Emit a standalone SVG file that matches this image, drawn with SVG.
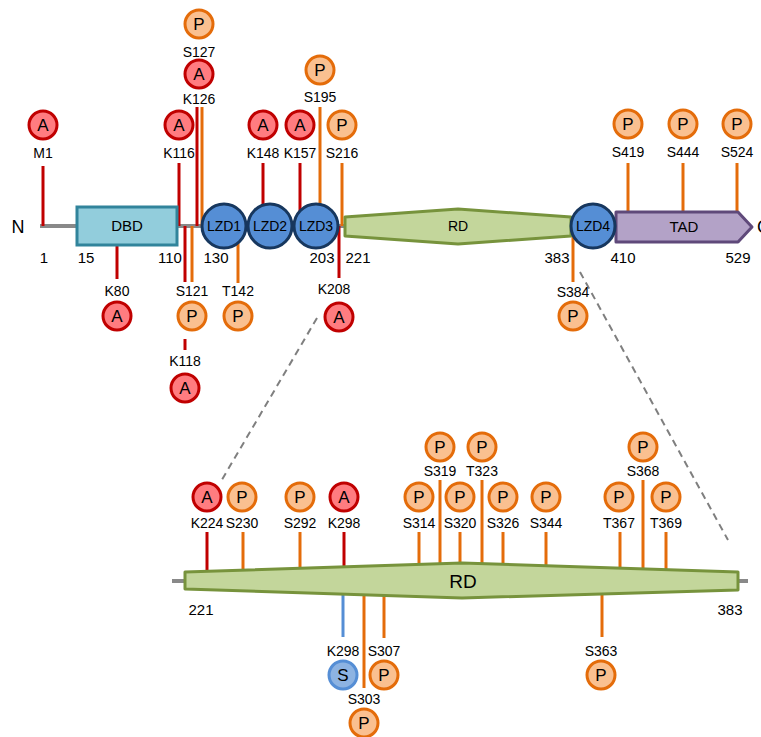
<svg xmlns="http://www.w3.org/2000/svg" width="761" height="737" viewBox="0 0 761 737">
<style>
text{font-family:"Liberation Sans",Arial,sans-serif;fill:#000;text-anchor:middle}
.lbl{font-size:14px}
.num{font-size:15px}
.let{font-size:17px}
.dom{font-size:15px}
.bb{stroke:#898989;stroke-width:4;fill:none}
.r{stroke:#c00000;stroke-width:3;fill:none}
.o{stroke:#e46c0a;stroke-width:3;fill:none}
.b{stroke:#558ed5;stroke-width:3;fill:none}
.dash{stroke:#7f7f7f;stroke-width:2;stroke-dasharray:7 5;fill:none}
.ca{fill:#ff7c80;stroke:#c00000;stroke-width:3}
.cp{fill:#fac090;stroke:#e46c0a;stroke-width:3}
.cs{fill:#8db3e2;stroke:#558ed5;stroke-width:3}
.lzd{fill:#558ed5;stroke:#17375e;stroke-width:3}
.rd{fill:#c3d69b;stroke:#77933c;stroke-width:3;stroke-linejoin:round}
</style>

<g id="connectors">
  <line class="bb" x1="40" y1="226" x2="616" y2="226"/>
  <line class="bb" x1="172" y1="581" x2="748" y2="581"/>
  <line class="dash" x1="317" y1="318" x2="220" y2="483"/>
  <line class="dash" x1="580" y1="272" x2="728" y2="540"/>
  <!-- top sites main -->
  <line class="r" x1="43" y1="166" x2="43" y2="226"/>
  <line class="r" x1="179" y1="163" x2="179" y2="226"/>
  <line class="r" x1="197" y1="107" x2="197" y2="226"/>
  <line class="o" x1="202" y1="107" x2="202" y2="226"/>
  <line class="r" x1="263" y1="163" x2="263" y2="226"/>
  <line class="r" x1="300" y1="163" x2="300" y2="226"/>
  <line class="o" x1="320" y1="107" x2="320" y2="226"/>
  <line class="o" x1="342" y1="163" x2="342" y2="226"/>
  <line class="o" x1="628" y1="163" x2="628" y2="226"/>
  <line class="o" x1="683" y1="163" x2="683" y2="226"/>
  <line class="o" x1="737" y1="163" x2="737" y2="226"/>
  <!-- bottom sites main -->
  <line class="r" x1="117" y1="240" x2="117" y2="279"/>
  <line class="r" x1="185" y1="226" x2="185" y2="282"/>
  <line class="o" x1="192" y1="226" x2="192" y2="282"/>
  <line class="r" x1="185" y1="339" x2="185" y2="350"/>
  <line class="o" x1="238" y1="230" x2="238" y2="283"/>
  <line class="r" x1="339" y1="226" x2="339" y2="278"/>
  <line class="o" x1="573" y1="226" x2="573" y2="282"/>
  <!-- zoomed RD top sites -->
  <line class="r" x1="207" y1="532" x2="207" y2="578"/>
  <line class="o" x1="243" y1="532" x2="243" y2="578"/>
  <line class="o" x1="300" y1="532" x2="300" y2="578"/>
  <line class="r" x1="344" y1="532" x2="344" y2="578"/>
  <line class="o" x1="419" y1="532" x2="419" y2="578"/>
  <line class="o" x1="440" y1="480" x2="440" y2="578"/>
  <line class="o" x1="460" y1="532" x2="460" y2="578"/>
  <line class="o" x1="482" y1="480" x2="482" y2="578"/>
  <line class="o" x1="503" y1="532" x2="503" y2="578"/>
  <line class="o" x1="546" y1="532" x2="546" y2="578"/>
  <line class="o" x1="620" y1="532" x2="620" y2="578"/>
  <line class="o" x1="643" y1="480" x2="643" y2="578"/>
  <line class="o" x1="666" y1="532" x2="666" y2="578"/>
  <!-- zoomed RD bottom sites -->
  <line class="b" x1="343" y1="585" x2="343" y2="637"/>
  <line class="o" x1="364" y1="585" x2="364" y2="688"/>
  <line class="o" x1="384" y1="585" x2="384" y2="638"/>
  <line class="o" x1="602" y1="585" x2="602" y2="637"/>
</g>

<text x="18" y="233" style="font-size:18px">N</text>
<text x="757" y="233" style="font-size:18px;text-anchor:start">C</text>

<g id="DBD">
  <rect x="77" y="207" width="100" height="38" fill="#92cddc" stroke="#31849b" stroke-width="3"/>
  <text class="dom" x="127" y="231">DBD</text>
</g>
<g id="RD">
  <polygon class="rd" points="345,217 458,209 571,217 571,236 458,244 345,236"/>
  <text class="lbl" x="458" y="231">RD</text>
</g>
<g id="TAD">
  <polygon points="616,212 738,212 752,227 738,242 616,242" fill="#b3a2c7" stroke="#5f497a" stroke-width="3" stroke-linejoin="round"/>
  <text class="dom" x="684" y="232">TAD</text>
</g>
<g id="LZD1"><circle class="lzd" cx="224" cy="226" r="22"/><text class="lbl" x="224" y="231">LZD1</text></g>
<g id="LZD2"><circle class="lzd" cx="270" cy="226" r="22"/><text class="lbl" x="270" y="231">LZD2</text></g>
<g id="LZD3"><circle class="lzd" cx="316" cy="226" r="22"/><text class="lbl" x="316" y="231">LZD3</text></g>
<g id="LZD4"><circle class="lzd" cx="593" cy="226" r="22"/><text class="lbl" x="593" y="231">LZD4</text></g>

<g id="positions">
  <text class="num" x="44" y="263">1</text>
  <text class="num" x="86" y="263">15</text>
  <text class="num" x="170" y="263">110</text>
  <text class="num" x="216" y="263">130</text>
  <text class="num" x="322" y="263">203</text>
  <text class="num" x="358" y="263">221</text>
  <text class="num" x="557" y="263">383</text>
  <text class="num" x="623" y="263">410</text>
  <text class="num" x="738" y="263">529</text>
  <text class="num" x="201" y="615">221</text>
  <text class="num" x="730" y="615">383</text>
</g>

<g id="RD-detail">
  <polygon class="rd" points="185,572 462,563 738,572 738,590 462,598 185,589"/>
  <text x="463" y="588" style="font-size:19px">RD</text>
</g>

<!-- main sites top -->
<g id="M1"><circle class="ca" cx="43" cy="125" r="14"/><text class="let" x="43" y="131">A</text><text class="lbl" x="43" y="158">M1</text></g>
<g id="K116"><circle class="ca" cx="179" cy="125" r="14"/><text class="let" x="179" y="131">A</text><text class="lbl" x="179" y="158">K116</text></g>
<g id="K126"><circle class="ca" cx="199" cy="74" r="14"/><text class="let" x="199" y="80">A</text><text class="lbl" x="199" y="104">K126</text></g>
<g id="S127"><circle class="cp" cx="199" cy="24" r="14"/><text class="let" x="199" y="30">P</text><text class="lbl" x="199" y="57">S127</text></g>
<g id="K148"><circle class="ca" cx="263" cy="125" r="14"/><text class="let" x="263" y="131">A</text><text class="lbl" x="263" y="158">K148</text></g>
<g id="K157"><circle class="ca" cx="300" cy="125" r="14"/><text class="let" x="300" y="131">A</text><text class="lbl" x="300" y="158">K157</text></g>
<g id="S195"><circle class="cp" cx="320" cy="70" r="14"/><text class="let" x="320" y="76">P</text><text class="lbl" x="320" y="102">S195</text></g>
<g id="S216"><circle class="cp" cx="342" cy="125" r="14"/><text class="let" x="342" y="131">P</text><text class="lbl" x="342" y="158">S216</text></g>
<g id="S419"><circle class="cp" cx="628" cy="124" r="14"/><text class="let" x="628" y="130">P</text><text class="lbl" x="628" y="157">S419</text></g>
<g id="S444"><circle class="cp" cx="683" cy="124" r="14"/><text class="let" x="683" y="130">P</text><text class="lbl" x="683" y="157">S444</text></g>
<g id="S524"><circle class="cp" cx="737" cy="124" r="14"/><text class="let" x="737" y="130">P</text><text class="lbl" x="737" y="157">S524</text></g>

<!-- main sites bottom -->
<g id="K80"><circle class="ca" cx="117" cy="316" r="14"/><text class="let" x="117" y="322">A</text><text class="lbl" x="117" y="296">K80</text></g>
<g id="S121"><circle class="cp" cx="192" cy="316" r="14"/><text class="let" x="192" y="322">P</text><text class="lbl" x="192" y="296">S121</text></g>
<g id="K118"><circle class="ca" cx="185" cy="388" r="14"/><text class="let" x="185" y="394">A</text><text class="lbl" x="185" y="366">K118</text></g>
<g id="T142"><circle class="cp" cx="238" cy="316" r="14"/><text class="let" x="238" y="322">P</text><text class="lbl" x="238" y="296">T142</text></g>
<g id="K208"><circle class="ca" cx="339" cy="317" r="14"/><text class="let" x="339" y="323">A</text><text class="lbl" x="334" y="294">K208</text></g>
<g id="S384"><circle class="cp" cx="573" cy="316" r="14"/><text class="let" x="573" y="322">P</text><text class="lbl" x="573" y="297">S384</text></g>

<!-- detail sites top -->
<g id="K224"><circle class="ca" cx="207" cy="497" r="14"/><text class="let" x="207" y="503">A</text><text class="lbl" x="207" y="528">K224</text></g>
<g id="S230"><circle class="cp" cx="242" cy="497" r="14"/><text class="let" x="242" y="503">P</text><text class="lbl" x="242" y="528">S230</text></g>
<g id="S292"><circle class="cp" cx="300" cy="497" r="14"/><text class="let" x="300" y="503">P</text><text class="lbl" x="300" y="528">S292</text></g>
<g id="K298a"><circle class="ca" cx="344" cy="497" r="14"/><text class="let" x="344" y="503">A</text><text class="lbl" x="344" y="528">K298</text></g>
<g id="S314"><circle class="cp" cx="419" cy="497" r="14"/><text class="let" x="419" y="503">P</text><text class="lbl" x="419" y="528">S314</text></g>
<g id="S319"><circle class="cp" cx="440" cy="447" r="14"/><text class="let" x="440" y="453">P</text><text class="lbl" x="440" y="476">S319</text></g>
<g id="S320"><circle class="cp" cx="460" cy="497" r="14"/><text class="let" x="460" y="503">P</text><text class="lbl" x="460" y="528">S320</text></g>
<g id="T323"><circle class="cp" cx="482" cy="447" r="14"/><text class="let" x="482" y="453">P</text><text class="lbl" x="482" y="476">T323</text></g>
<g id="S326"><circle class="cp" cx="503" cy="497" r="14"/><text class="let" x="503" y="503">P</text><text class="lbl" x="503" y="528">S326</text></g>
<g id="S344"><circle class="cp" cx="546" cy="497" r="14"/><text class="let" x="546" y="503">P</text><text class="lbl" x="546" y="528">S344</text></g>
<g id="T367"><circle class="cp" cx="619" cy="497" r="14"/><text class="let" x="619" y="503">P</text><text class="lbl" x="619" y="528">T367</text></g>
<g id="S368"><circle class="cp" cx="643" cy="447" r="14"/><text class="let" x="643" y="453">P</text><text class="lbl" x="643" y="476">S368</text></g>
<g id="T369"><circle class="cp" cx="666" cy="497" r="14"/><text class="let" x="666" y="503">P</text><text class="lbl" x="666" y="528">T369</text></g>

<!-- detail sites bottom -->
<g id="K298s"><circle class="cs" cx="343" cy="675" r="14"/><text class="let" x="343" y="681">S</text><text class="lbl" x="343" y="656">K298</text></g>
<g id="S303"><circle class="cp" cx="364" cy="723" r="14"/><text class="let" x="364" y="729">P</text><text class="lbl" x="364" y="704">S303</text></g>
<g id="S307"><circle class="cp" cx="384" cy="675" r="14"/><text class="let" x="384" y="681">P</text><text class="lbl" x="384" y="656">S307</text></g>
<g id="S363"><circle class="cp" cx="601" cy="675" r="14"/><text class="let" x="601" y="681">P</text><text class="lbl" x="601" y="656">S363</text></g>
</svg>
